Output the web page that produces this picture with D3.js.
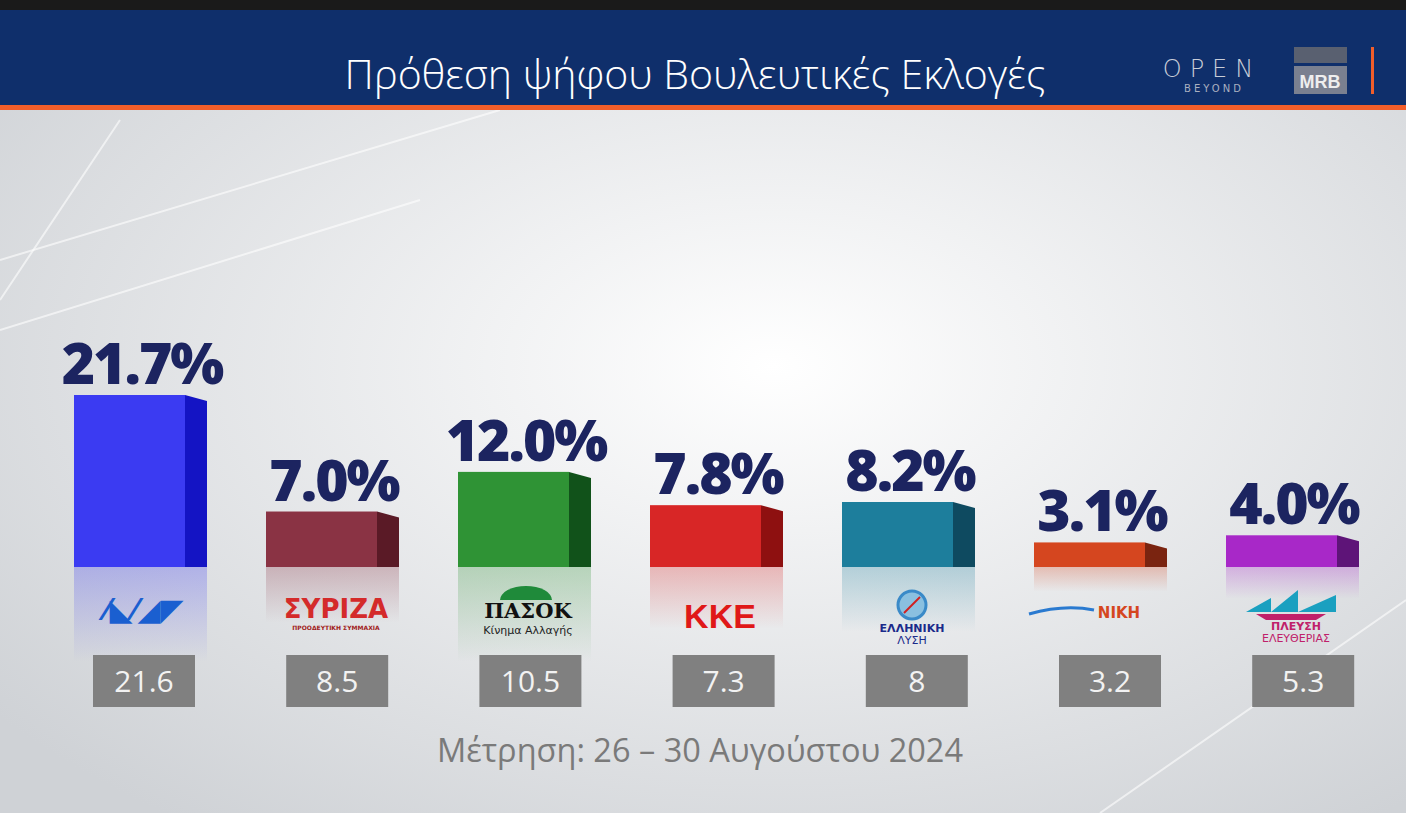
<!DOCTYPE html>
<html><head><meta charset="utf-8">
<script src="https://cdn.jsdelivr.net/npm/d3@7"></script>
<style>body{margin:0;overflow:hidden}svg{display:block}</style>
</head><body>
<svg id="chart" width="1406" height="813"></svg>
<script>
var parties = ['ΝΔ', 'ΣΥΡΙΖΑ', 'ΠΑΣΟΚ', 'ΚΚΕ', 'ΕΛΛΗΝΙΚΗ ΛΥΣΗ', 'ΝΙΚΗ', 'ΠΛΕΥΣΗ'];
var current = [21.7, 7.0, 12.0, 7.8, 8.2, 3.1, 4.0];
var previous = ['21.6', '8.5', '10.5', '7.3', '8', '3.2', '5.3'];
var fronts = ['#3b3bf2', '#8a3344', '#2f9335', '#d82626', '#1d7e9c', '#d5461f', '#a828c8'];
var sides = ['#1414c4', '#5a1a26', '#11521a', '#8e1010', '#0e4a60', '#7a2410', '#5e1478'];

var svg = d3.select('#chart');
var defs = svg.append('defs');
var bg = defs.append('radialGradient').attr('id', 'bg').attr('cx', '55%').attr('cy', '45%').attr('r', '70%');
bg.append('stop').attr('offset', '0%').attr('stop-color', '#ffffff');
bg.append('stop').attr('offset', '100%').attr('stop-color', '#cfd2d6');
svg.append('rect').attr('width', 1406).attr('height', 813).attr('fill', 'url(#bg)');

// faint background streaks
[[0, 260, 500, 110], [0, 330, 420, 200], [120, 120, 0, 300], [1100, 813, 1406, 600]].forEach(function(l){
  svg.append('line').attr('x1', l[0]).attr('y1', l[1]).attr('x2', l[2]).attr('y2', l[3])
    .attr('stroke', '#ffffff').attr('stroke-width', 2).attr('opacity', 0.6);
});

// header
svg.append('rect').attr('width', 1406).attr('height', 10).attr('fill', '#1a1a1a');
svg.append('rect').attr('y', 10).attr('width', 1406).attr('height', 95).attr('fill', '#0f2f6b');
svg.append('rect').attr('y', 105).attr('width', 1406).attr('height', 5).attr('fill', '#f25e2a');
svg.append('text').attr('x', 695).attr('y', 89).attr('text-anchor', 'middle')
  .attr('fill', '#fff').attr('font-family', 'Open Sans').attr('font-size', 41).attr('font-weight', 300)
  .text('Πρόθεση ψήφου Βουλευτικές Εκλογές');
svg.append('text').attr('x', 1212).attr('y', 77).attr('text-anchor', 'middle').attr('fill', '#c8cdd8')
  .attr('font-family', 'DejaVu Sans').attr('font-size', 24).attr('font-weight', 200).attr('letter-spacing', 8).text('OPEN');
svg.append('text').attr('x', 1214).attr('y', 92).attr('text-anchor', 'middle').attr('fill', '#aab0c0')
  .attr('font-family', 'DejaVu Sans').attr('font-size', 10).attr('letter-spacing', 3).text('BEYOND');
svg.append('rect').attr('x', 1294).attr('y', 47).attr('width', 53).attr('height', 16).attr('fill', '#596070');
svg.append('rect').attr('x', 1294).attr('y', 66).attr('width', 53).attr('height', 28).attr('fill', '#7a8090');
svg.append('text').attr('x', 1320).attr('y', 88).attr('text-anchor', 'middle').attr('fill', '#eee')
  .attr('font-family', 'Liberation Sans').attr('font-weight', 'bold').attr('font-size', 18).text('MRB');
svg.append('rect').attr('x', 1371).attr('y', 47).attr('width', 3).attr('height', 47).attr('fill', '#f25e2a');

var x = d3.scaleBand().domain(parties).range([74, 74 + 192 * 7]).paddingInner(0);
var xBox = d3.scaleBand().domain(parties).range([93, 93 + 193.2 * 7]).paddingInner(0);
var y = d3.scaleLinear().domain([0, 21.7]).range([567, 395]);
var fw = 111, sw = 22;

var g = svg.selectAll('g.bar').data(parties).enter().append('g').attr('class', 'bar')
  .attr('transform', function(d){ return 'translate(' + x(d) + ',0)'; });

g.each(function(d, i){
  var s = d3.select(this);
  var top = y(current[i]);
  // reflection
  var rg = defs.append('linearGradient').attr('id', 'r' + i).attr('x1', 0).attr('y1', 0).attr('x2', 0).attr('y2', 1);
  rg.append('stop').attr('offset', '0%').attr('stop-color', fronts[i]).attr('stop-opacity', 0.28);
  rg.append('stop').attr('offset', '100%').attr('stop-color', fronts[i]).attr('stop-opacity', 0);
  s.append('rect').attr('x', 0).attr('y', 567).attr('width', fw + sw)
    .attr('height', Math.min(567 - top, 95)).attr('fill', 'url(#r' + i + ')');
  s.append('rect').attr('x', 0).attr('y', top).attr('width', fw).attr('height', 567 - top).attr('fill', fronts[i]);
  s.append('path').attr('d', 'M' + fw + ',' + top + 'L' + (fw + sw) + ',' + (top + 6) + 'L' + (fw + sw) + ',567L' + fw + ',567Z')
    .attr('fill', sides[i]);
  s.append('text').attr('x', 68).attr('y', top - 11).attr('text-anchor', 'middle')
    .attr('fill', '#1c2460').attr('font-family', 'Open Sans').attr('font-weight', 800)
    .attr('font-size', 57).attr('letter-spacing', -2).text(d3.format('.1f')(current[i]) + '%');
});

var boxes = svg.selectAll('g.box').data(parties).enter().append('g').attr('class', 'box')
  .attr('transform', function(d){ return 'translate(' + xBox(d) + ',0)'; });
boxes.append('rect').attr('y', 655).attr('width', 102).attr('height', 52).attr('fill', '#808080');
boxes.append('text').attr('x', 51).attr('y', 692).attr('text-anchor', 'middle').attr('fill', '#f2f2f2')
  .attr('font-family', 'Open Sans').attr('font-size', 30).text(function(d, i){ return previous[i]; });

// party logos, approximated with text
var logos = [
  {t: '⁄◣⁄◢◤', c: '#1a5fd0', s: 30, f: 'DejaVu Sans', y: 620},
  {t: 'ΣΥΡΙΖΑ', c: '#d42a2a', s: 26, f: 'DejaVu Sans', y: 618, sub: 'ΠΡΟΟΔΕΥΤΙΚΗ ΣΥΜΜΑΧΙΑ', sc: '#a02020'},
  {t: 'ΠΑΣΟΚ', c: '#111', s: 21, f: 'DejaVu Serif', y: 618, sub: 'Κίνημα Αλλαγής', sc: '#222', sun: '#1f8a3a'},
  {t: 'ΚΚΕ', c: '#e01818', s: 34, f: 'Liberation Sans', y: 628},
  {t: 'ΕΛΛΗΝΙΚΗ', c: '#1a2a8a', s: 11, f: 'DejaVu Sans', y: 632, sub: 'ΛΥΣΗ', sc: '#1a2a8a', comp: true},
  {t: 'ΝΙΚΗ', c: '#d5461f', s: 15, f: 'DejaVu Sans', y: 618},
  {t: 'ΠΛΕΥΣΗ', c: '#c0206a', s: 11, f: 'DejaVu Sans', y: 630, sub: 'ΕΛΕΥΘΕΡΙΑΣ', sc: '#c0206a', sail: true}
];
g.each(function(d, i){
  var s = d3.select(this), L = logos[i];
  if (L.sun) s.append('path').attr('d', 'M42,600 A26,14 0 0 1 94,600 Z').attr('fill', L.sun);
  if (L.comp) {
    s.append('circle').attr('cx', 70).attr('cy', 605).attr('r', 14).attr('fill', '#8ac0e0').attr('stroke', '#3a8ac8').attr('stroke-width', 3);
    s.append('path').attr('d', 'M62,613L70,605L78,597').attr('stroke', '#d02020').attr('stroke-width', 2);
  }
  if (L.sail) {
    s.append('path').attr('d', 'M20,612L45,598L45,612Z M45,612L72,590L72,612Z M72,612L110,595L110,612Z').attr('fill', '#1aa0c0');
    s.append('path').attr('d', 'M30,614L100,614L90,620L40,620Z').attr('fill', '#c0206a');
  }
  s.append('text').attr('x', i === 5 ? 85 : 70).attr('y', L.y).attr('text-anchor', 'middle').attr('fill', L.c)
    .attr('font-family', L.f).attr('font-weight', 'bold').attr('font-size', L.s).text(L.t);
  if (i === 5) s.append('path').attr('d', 'M-5,614 Q30,604 60,610').attr('stroke', '#2a7ad0').attr('stroke-width', 3).attr('fill', 'none');
  if (L.sub) s.append('text').attr('x', 70).attr('y', L.y + (i === 2 ? 16 : 12)).attr('text-anchor', 'middle')
    .attr('fill', L.sc).attr('font-family', 'DejaVu Sans').attr('font-size', i === 1 ? 6 : 11)
    .attr('font-weight', i === 1 ? 'bold' : 'normal').text(L.sub);
});

svg.append('text').attr('x', 700).attr('y', 762).attr('text-anchor', 'middle').attr('fill', '#7a7a7a')
  .attr('font-family', 'Open Sans').attr('font-size', 32.5).text('Μέτρηση: 26 – 30 Αυγούστου 2024');
</script>
</body></html>
